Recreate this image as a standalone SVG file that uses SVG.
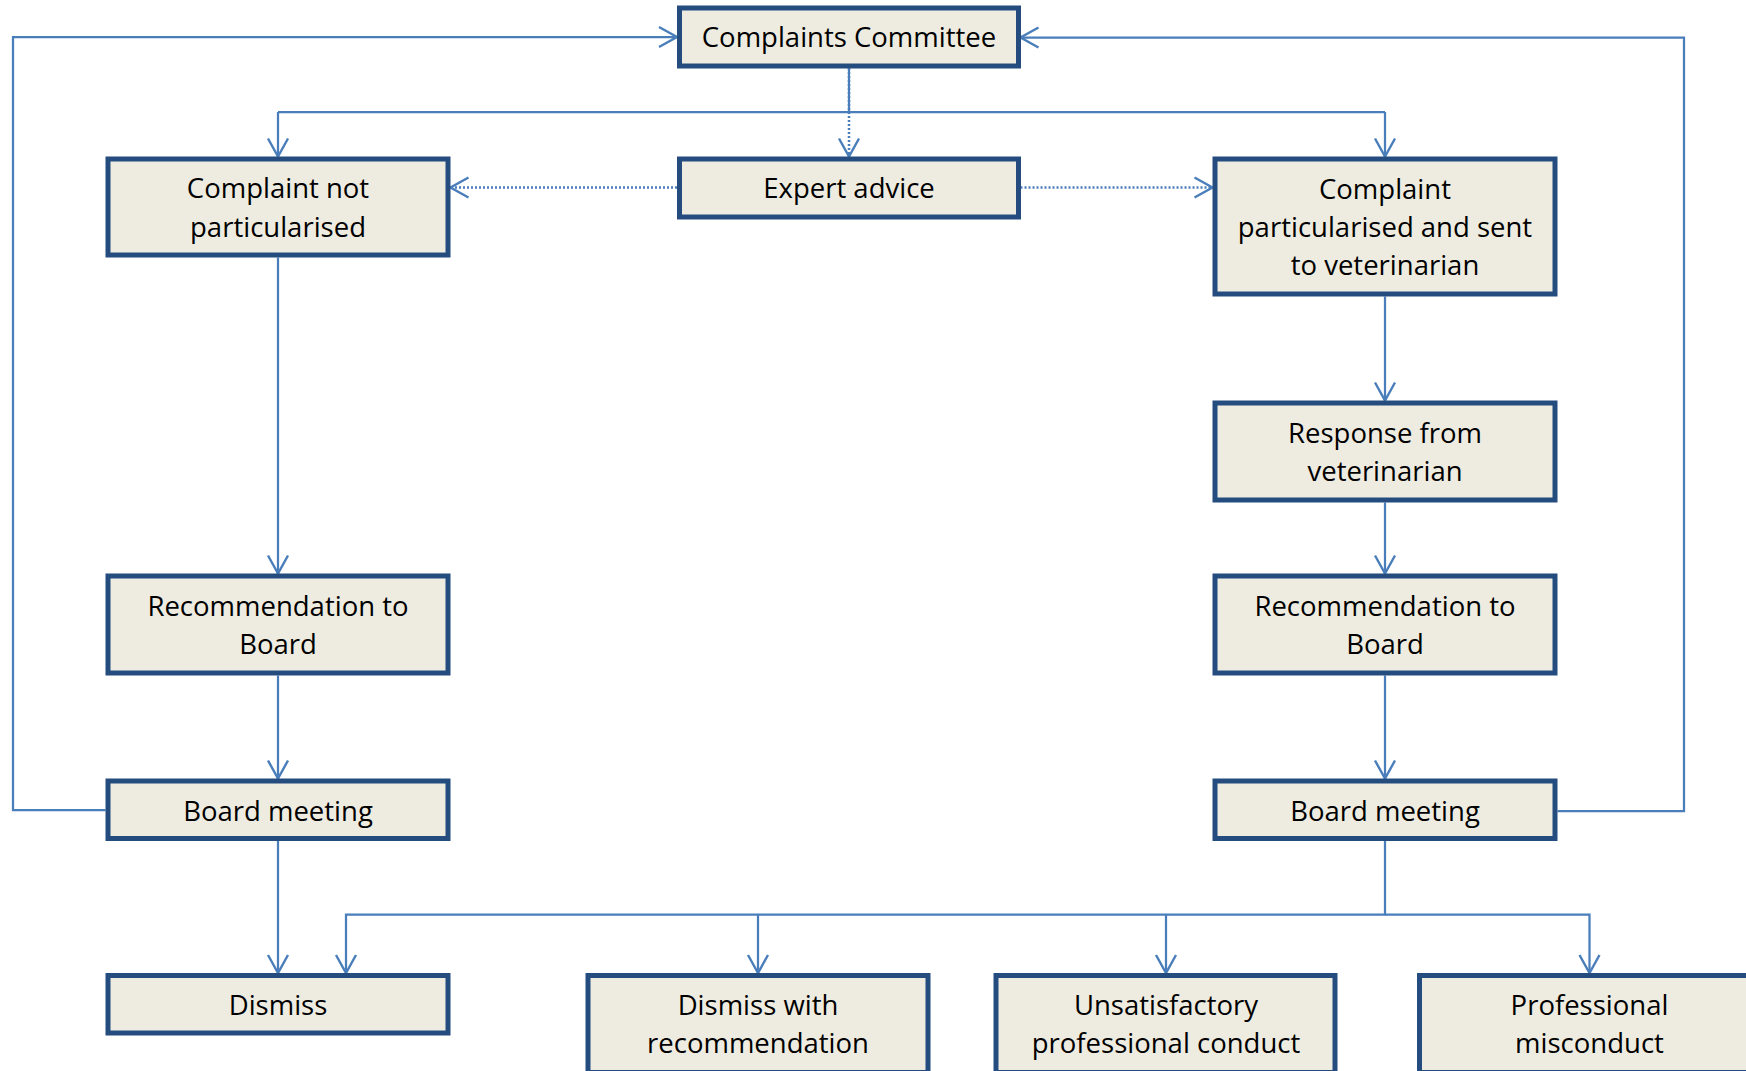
<svg xmlns="http://www.w3.org/2000/svg" width="1746" height="1071" viewBox="0 0 1746 1071">
<style>
.box{fill:#EEECE1;stroke:#244C7E;stroke-width:5}
.t{font-family:"Open Sans","Liberation Sans",sans-serif;font-size:27.5px;fill:#000;text-anchor:middle}
.c{fill:none;stroke:#4A7EBB;stroke-width:2.25}
.d{fill:none;stroke:#4A7EBB;stroke-width:2.5;stroke-dasharray:2 2}
</style>
<defs>
<marker id="arr" markerUnits="userSpaceOnUse" viewBox="-20 -12 22 24" markerWidth="22" markerHeight="24" refX="0" refY="0" orient="auto" overflow="visible">
<path d="M-18,-10 L0,0 L-18,10" fill="none" stroke="#4A7EBB" stroke-width="2.4"/>
</marker>
</defs>
<rect width="1746" height="1071" fill="#fff"/>
<g id="connectors">
<path class="d" d="M849,68 V156.5" marker-end="url(#arr)"/>
<path class="c" d="M849,68 V112"/>
<path class="c" d="M278,112 H1385"/>
<path class="c" d="M278,112 V156.5" marker-end="url(#arr)"/>
<path class="c" d="M1385,112 V156.5" marker-end="url(#arr)"/>
<path class="d" d="M677,187.5 H450.5" marker-end="url(#arr)"/>
<path class="d" d="M1020.5,187.5 H1212.5" marker-end="url(#arr)"/>
<path class="c" d="M278,257.5 V573.5" marker-end="url(#arr)"/>
<path class="c" d="M278,675.5 V778.5" marker-end="url(#arr)"/>
<path class="c" d="M278,841 V973" marker-end="url(#arr)"/>
<path class="c" d="M105.5,810 H13 V37 H677" marker-end="url(#arr)"/>
<path class="c" d="M1385,296.5 V400.5" marker-end="url(#arr)"/>
<path class="c" d="M1385,502.5 V573.5" marker-end="url(#arr)"/>
<path class="c" d="M1385,675.5 V778.5" marker-end="url(#arr)"/>
<path class="c" d="M1557.5,811 H1684 V37.5 H1020.5" marker-end="url(#arr)"/>
<path class="c" d="M1385,841 V914.5 H346 V973" marker-end="url(#arr)"/>
<path class="c" d="M758,914.5 V973" marker-end="url(#arr)"/>
<path class="c" d="M1166,914.5 V973" marker-end="url(#arr)"/>
<path class="c" d="M1385,914.5 H1589.5 V973" marker-end="url(#arr)"/>
</g>
<g id="committee"><rect class="box" x="679.5" y="8" width="339" height="58"/><text class="t" x="849" y="47">Complaints Committee</text></g>
<g id="expert"><rect class="box" x="679.5" y="159" width="339" height="58"/><text class="t" x="849" y="197.5">Expert advice</text></g>
<g id="not-particularised"><rect class="box" x="108" y="159" width="340" height="96"/><text class="t" x="278" y="198">Complaint not</text><text class="t" x="278" y="236.5">particularised</text></g>
<g id="particularised"><rect class="box" x="1215" y="159" width="340" height="135"/><text class="t" x="1385" y="198.5">Complaint</text><text class="t" x="1385" y="236.5">particularised and sent</text><text class="t" x="1385" y="275">to veterinarian</text></g>
<g id="response"><rect class="box" x="1215" y="403" width="340" height="97"/><text class="t" x="1385" y="442.5">Response from</text><text class="t" x="1385" y="480.5">veterinarian</text></g>
<g id="rec-left"><rect class="box" x="108" y="576" width="340" height="97"/><text class="t" x="278" y="615.5">Recommendation to</text><text class="t" x="278" y="654">Board</text></g>
<g id="rec-right"><rect class="box" x="1215" y="576" width="340" height="97"/><text class="t" x="1385" y="615.5">Recommendation to</text><text class="t" x="1385" y="654">Board</text></g>
<g id="board-left"><rect class="box" x="108" y="781" width="340" height="57.5"/><text class="t" x="278" y="820.5">Board meeting</text></g>
<g id="board-right"><rect class="box" x="1215" y="781" width="340" height="57.5"/><text class="t" x="1385" y="820.5">Board meeting</text></g>
<g id="dismiss"><rect class="box" x="108" y="975.5" width="340" height="57.5"/><text class="t" x="278" y="1015">Dismiss</text></g>
<g id="dismiss-rec"><rect class="box" x="588" y="975.5" width="340" height="97"/><text class="t" x="758" y="1015">Dismiss with</text><text class="t" x="758" y="1052.5">recommendation</text></g>
<g id="unsatisfactory"><rect class="box" x="996" y="975.5" width="339" height="97"/><text class="t" x="1166" y="1015">Unsatisfactory</text><text class="t" x="1166" y="1052.5">professional conduct</text></g>
<g id="misconduct"><rect class="box" x="1419.5" y="975.5" width="340" height="97"/><text class="t" x="1589.5" y="1015">Professional</text><text class="t" x="1589.5" y="1052.5">misconduct</text></g>
</svg>
